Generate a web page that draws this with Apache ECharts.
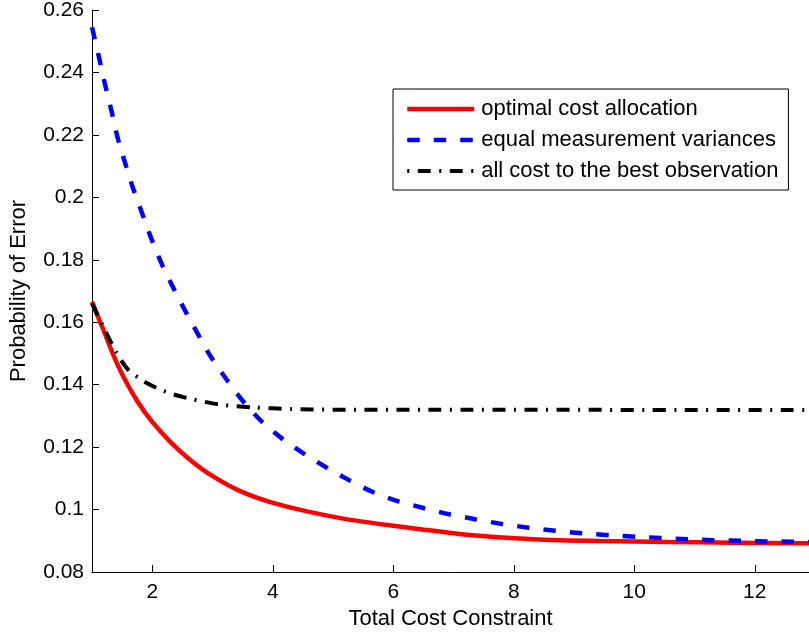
<!DOCTYPE html>
<html>
<head>
<meta charset="utf-8">
<script src="https://cdn.jsdelivr.net/npm/echarts@6/dist/echarts.min.js"></script>
<style>
html,body{margin:0;padding:0;background:#fff;}
#chart{width:809px;height:633px;}
</style>
</head>
<body>
<div id="chart"></div>
<script>
// ---- Data ----
const seriesNames = ['optimal cost allocation', 'equal measurement variances', 'all cost to the best observation'];

const optimalX = [1, 1.19, 1.35, 1.52, 1.74, 1.99, 2.3, 2.63, 3.01, 3.46, 3.99, 4.57, 5.17, 5.84, 6.42, 7.22, 8.33, 9.44, 10.55, 11.65, 12.9];
const optimalY = [0.1665, 0.1575, 0.1497, 0.1426, 0.1351, 0.1283, 0.1217, 0.1159, 0.1106, 0.1059, 0.1022, 0.0994, 0.0971, 0.0952, 0.0938, 0.0919, 0.0905, 0.0899, 0.0896, 0.0894, 0.0892];

const equalX = [1, 1.12, 1.2, 1.32, 1.42, 1.55, 1.68, 1.83, 1.98, 2.15, 2.34, 2.54, 2.75, 2.97, 3.24, 3.49, 3.79, 4.15, 4.51, 4.87, 5.26, 5.65, 6.06, 6.5, 6.93, 7.36, 7.8, 8.25, 8.69, 9.13, 9.58, 10.02, 10.46, 10.89, 11.32, 11.76, 12.21, 12.65, 12.9];
const equalY = [0.2545, 0.2445, 0.2375, 0.2280, 0.2195, 0.2110, 0.2030, 0.1950, 0.1870, 0.1790, 0.1714, 0.1639, 0.1565, 0.1490, 0.1415, 0.1351, 0.1287, 0.1228, 0.1180, 0.1137, 0.1095, 0.1057, 0.1028, 0.1005, 0.0985, 0.0969, 0.0954, 0.0942, 0.0932, 0.0924, 0.0918, 0.0913, 0.0909, 0.0905, 0.0902, 0.0900, 0.0898, 0.0897, 0.0896];

const bestX = [1, 1.2, 1.4, 1.6, 1.85, 2.1, 2.35, 2.65, 3.1, 3.7, 4.3, 5, 12.9];
const bestY = [0.1660, 0.1580, 0.1505, 0.1448, 0.1412, 0.1387, 0.1369, 0.1354, 0.1337, 0.1327, 0.1322, 0.1320, 0.1319];

const xTicks = [2, 4, 6, 8, 10, 12];
const xRange = [1, 12.9];
const yRange = [0.08, 0.26];
const yStep = 0.02;

const xTitle = 'Total Cost Constraint';
const yTitle = 'Probability of Error';

function pairs(xs, ys) { return xs.map((x, i) => [x, ys[i]]); }

const colors = ['#ff0000', '#0000ff', '#000000'];
const widths = [4.5, 4.5, 4];
const dashes = ['solid', [12.5, 14], [13, 8.5, 2, 8.5]];
const legendDashes = ['solid', [12.5, 14], [2, 8.5, 13, 8.5]];

const chart = echarts.init(document.getElementById('chart'), null, {renderer: 'canvas'});
const font = 'Liberation Sans, Arial, Helvetica, sans-serif';

chart.setOption({
  animation: false,
  backgroundColor: '#fff',
  grid: { left: 92, right: 0, top: 10, bottom: 61, outerBoundsMode: 'none', containLabel: false },
  xAxis: {
    type: 'value',
    min: xRange[0], max: xRange[1],
    name: xTitle, nameLocation: 'middle', nameGap: 33,
    nameTextStyle: { color: '#000', fontSize: 22, fontFamily: font },
    axisLine: { show: true, onZero: false, lineStyle: { color: '#000', width: 1 } },
    axisTick: { show: true, inside: true, length: 7, customValues: xTicks, lineStyle: { color: '#000' } },
    axisLabel: { customValues: xTicks, color: '#000', fontSize: 21, fontFamily: font, margin: 10 },
    splitLine: { show: false }
  },
  yAxis: {
    type: 'value',
    min: yRange[0], max: yRange[1], interval: yStep,
    name: yTitle, nameLocation: 'middle', nameGap: 62, nameRotate: 90,
    nameTextStyle: { color: '#000', fontSize: 22, fontFamily: font },
    axisLine: { show: true, onZero: false, lineStyle: { color: '#000', width: 1 } },
    axisTick: { show: true, inside: true, length: 7, lineStyle: { color: '#000' } },
    axisLabel: { color: '#000', fontSize: 21, fontFamily: font, margin: 8,
      formatter: v => String(parseFloat(v.toFixed(2))) },
    splitLine: { show: false }
  },
  legend: {
    orient: 'vertical',
    left: 393, top: 89,
    padding: [9, 10, 8, 12],
    itemWidth: 67, itemHeight: 14, itemGap: 9,
    backgroundColor: '#fff',
    borderColor: '#000', borderWidth: 1, borderRadius: 0,
    itemStyle: { opacity: 0 },
    textStyle: { color: '#000', fontSize: 22, fontFamily: font, padding: [0, 0, 0, 2] },
    data: seriesNames.map((n, i) => ({
      name: n,
      itemStyle: { opacity: 0 },
      lineStyle: { color: colors[i], width: widths[i], type: legendDashes[i], cap: 'butt' }
    }))
  },
  series: [
    {
      name: seriesNames[0], type: 'line', data: pairs(optimalX, optimalY),
      symbol: 'none', smooth: 0.25, z: 2,
      lineStyle: { color: colors[0], width: widths[0], type: dashes[0] },
      itemStyle: { color: colors[0] }
    },
    {
      name: seriesNames[1], type: 'line', data: pairs(equalX, equalY),
      symbol: 'none', smooth: 0.25, z: 3,
      lineStyle: { color: colors[1], width: widths[1], type: dashes[1], cap: 'butt' },
      itemStyle: { color: colors[1] }
    },
    {
      name: seriesNames[2], type: 'line', data: pairs(bestX, bestY),
      symbol: 'none', smooth: 0.25, z: 4,
      lineStyle: { color: colors[2], width: widths[2], type: dashes[2], cap: 'butt' },
      itemStyle: { color: colors[2] }
    }
  ]
});
</script>
</body>
</html>
